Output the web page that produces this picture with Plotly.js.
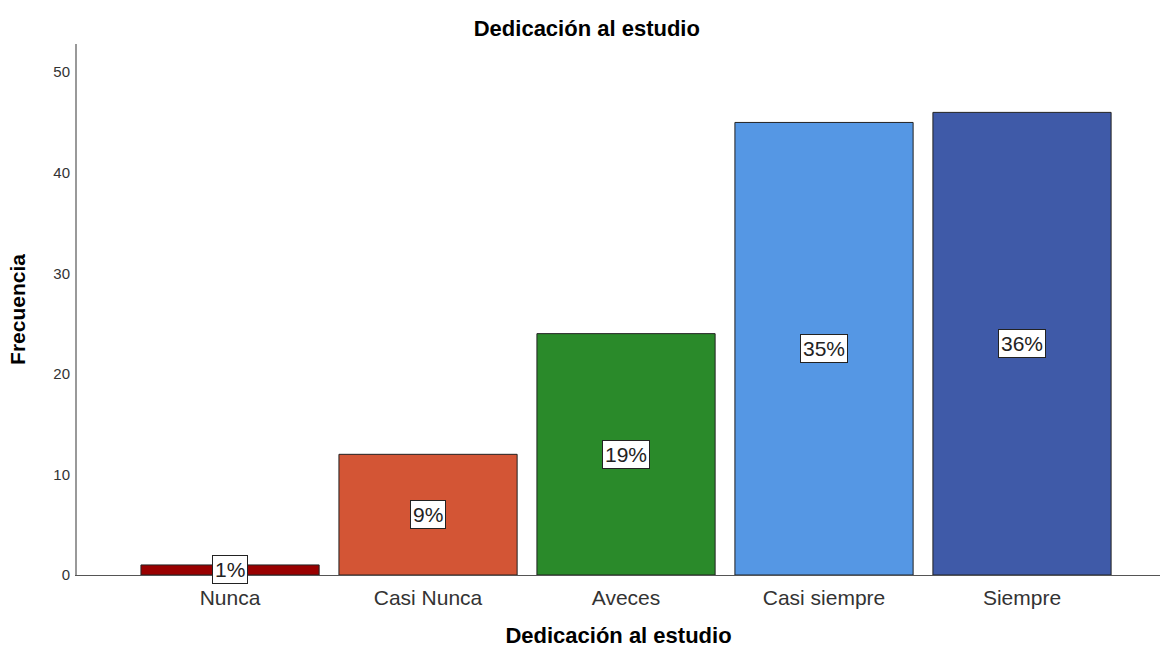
<!DOCTYPE html>
<html>
<head>
<meta charset="utf-8">
<script src="https://cdn.plot.ly/plotly-3.0.1.min.js"></script>
<style>html,body{margin:0;padding:0;background:#fff;}#chart{width:1162px;height:648px;}</style>
</head>
<body>
<div id="chart"></div>
<script>
const categories = ["Nunca", "Casi Nunca", "Aveces", "Casi siempre", "Siempre"];
const frequencies = [1, 12, 24, 45, 46];
const percentLabels = ["1%", "9%", "19%", "35%", "36%"];
const barColors = ["#990000", "#d35535", "#2a8a2a", "#5597e4", "#3f5aa8"];
const yTicks = [0, 10, 20, 30, 40, 50];

const trace = {
  type: "bar",
  x: categories,
  y: frequencies,
  width: 0.9,
  marker: {color: barColors, line: {color: "#222222", width: 1}},
  hoverinfo: "x+y"
};

const annotations = categories.map((c, i) => ({
  x: c, y: frequencies[i] / 2, xref: "x", yref: "y",
  text: percentLabels[i], showarrow: false,
  font: {family: "Liberation Sans, Arial, sans-serif", size: 21, color: "#222"},
  bgcolor: "#ffffff", bordercolor: "#222222", borderwidth: 1, borderpad: 2
}));

const layout = {
  width: 1162, height: 648,
  margin: {l: 77, r: 2, t: 44, b: 73},
  paper_bgcolor: "#ffffff", plot_bgcolor: "#ffffff",
  font: {family: "Liberation Sans, Arial, sans-serif", color: "#222"},
  title: {text: "<b>Dedicación al estudio</b>", x: 0.505, xanchor: "center", y: 0.957, yanchor: "middle",
          font: {size: 22, color: "#000"}},
  showlegend: false,
  bargap: 0.1,
  xaxis: {
    type: "category", range: [-0.773, 4.697],
    showline: true, linecolor: "#555", linewidth: 1,
    showgrid: false, zeroline: false, ticks: "",
    tickfont: {size: 21, color: "#333"}, ticklabelstandoff: 4,
    title: {text: "<b>Dedicación al estudio</b>", font: {size: 22, color: "#000"}, standoff: 19}
  },
  yaxis: {
    range: [0, 52.8], tickvals: yTicks,
    showline: true, linecolor: "#999", linewidth: 2,
    showgrid: false, zeroline: false, ticks: "",
    tickfont: {size: 15, color: "#333"}, ticklabelstandoff: 2,
    title: {text: "<b>Frecuencia</b>", font: {size: 21, color: "#000"}, standoff: 22}
  },
  annotations: annotations
};

Plotly.newPlot("chart", [trace], layout, {displayModeBar: false});
</script>
</body>
</html>
